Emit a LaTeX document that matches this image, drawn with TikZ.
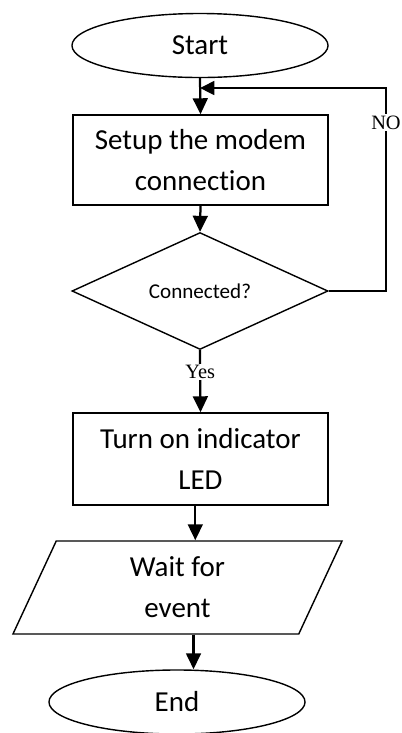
\documentclass[tikz,border=0pt]{standalone}
\usepackage{fontspec}
\setmainfont{Carlito}[Ligatures=NoCommon]
\newfontfamily\labelface{Liberation Serif}
\usetikzlibrary{
    shapes.geometric,
    arrows.meta,
    positioning
}
\tikzset{
    % Start / end terminals
    terminal/.style={
        ellipse,
        draw,
        line width=1pt,
        minimum width=6.4cm,
        minimum height=1.6cm,
        inner sep=0pt,
        font=\fontsize{20.6}{29}\selectfont
    },
    % Process box
    process/.style={
        rectangle,
        draw,
        line width=1pt,
        minimum width=6.375cm,
        minimum height=2.25cm,
        align=center,
        font=\fontsize{20.6}{29}\selectfont
    },
    % Decision
    decision/.style={
        diamond,
        draw,
        line width=1pt,
        minimum width=6.4cm,
        minimum height=2.45cm,
        inner sep=0pt,
        font=\fontsize{15}{18}\selectfont
    },
    % Input / output
    io/.style={
        trapezium,
        trapezium left angle=54.6,
        trapezium right angle=125.4,
        trapezium stretches body,
        draw,
        line width=1pt,
        minimum width=8.225cm,
        minimum height=2.325cm,
        inner sep=0pt,
        align=center,
        font=\fontsize{20.6}{29}\selectfont
    },
    % Arrows
    flow/.style={
        -{Triangle[length=0.4cm, width=0.37cm]},
        line width=1.6pt
    },
    loopback/.style={
        -{Triangle[length=0.36cm, width=0.35cm]},
        line width=1.2pt
    },
    % Branch labels
    branch label/.style={
        font=\labelface\fontsize{14.5}{16}\selectfont,
        fill=white,
        inner sep=1pt
    }
}

\begin{document}
\begin{tikzpicture}[x=0.025cm, y=-0.025cm]
    \useasboundingbox (0,0) rectangle (402,733);

    % Flow nodes
    \node[terminal] (start) at (200,45.5) {Start};
    \node[process] (setup) at (200.5,160) {Setup the modem\\connection};
    \node[decision] (check) at (200,291) {Connected?};
    \node[process, minimum height=2.3cm] (led) at (200.5,459) {Turn on indicator\\LED};
    \node[io] (wait) at (177.5,587.5) {Wait for\\event};
    \node[terminal] (fin) at (177,702) {End};

    % Loop back point
    \coordinate (loopcorner) at (386,88);
    \coordinate (merge) at (start.south |- loopcorner);

    % Connections
    \draw[flow] (start.south) -- (setup.north);
    \draw[flow] (setup.south) -- (check.north);
    \draw[flow] (check.south) -- node[branch label, pos=0.35] (yes) {Yes} (led.north);
    \draw[flow] ([xshift=-0.13cm]led.south) -- ([xshift=-0.13cm]led.south |- wait.north);
    \draw[flow] ([xshift=0.4cm]wait.south) -- ([xshift=0.4cm]wait.south |- fin.north);

    \draw[loopback] (check.east) -| node[branch label, pos=0.915] (no) {NO} (loopcorner) -- (merge);

\end{tikzpicture}
\end{document}
